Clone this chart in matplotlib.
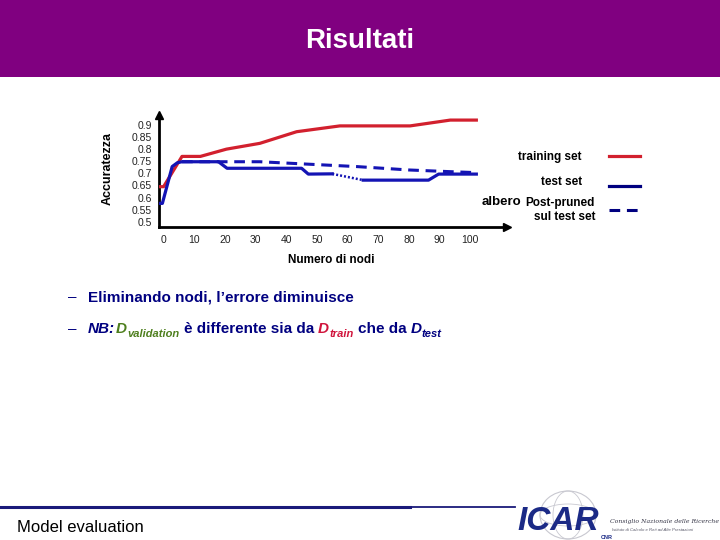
import matplotlib
matplotlib.use("Agg")
import matplotlib.pyplot as plt
from matplotlib.patches import Rectangle, Ellipse
from matplotlib.lines import Line2D

plt.rcParams['font.family'] = ['Liberation Sans', 'DejaVu Sans']

# ---------------- data ----------------
train_x = [-1.5, 0.0, 6.0, 12.0, 20.5, 31.4, 43.4, 57.5, 80.4, 93.5, 102]
train_y = [0.645, 0.645, 0.770, 0.770, 0.800, 0.824, 0.872, 0.896, 0.896, 0.920, 0.920]

test_x_a = [-1.5, -0.4, 2.8, 4.5, 6.0, 17.9, 20.7, 45.0, 47.2, 55.0]
test_y_a = [0.576, 0.576, 0.728, 0.744, 0.748, 0.748, 0.721, 0.721, 0.697, 0.698]
test_x_dot = [55.0, 65.1]
test_y_dot = [0.698, 0.672]
test_x_b = [65.1, 86.4, 89.7, 102]
test_y_b = [0.672, 0.672, 0.697, 0.697]

pruned_x = [6.0, 18.0, 31.4, 45.5, 63.0, 80.0, 93.5, 102]
pruned_y = [0.748, 0.748, 0.748, 0.739, 0.728, 0.714, 0.707, 0.703]

x_ticks = [0, 10, 20, 30, 40, 50, 60, 70, 80, 90, 100]
y_ticks = [0.5, 0.55, 0.6, 0.65, 0.7, 0.75, 0.8, 0.85, 0.9]
y_ticklabels = ["0.5", "0.55", "0.6", "0.65", "0.7", "0.75", "0.8", "0.85", "0.9"]

title = "Risultati"
ylabel = "Accuratezza"
xlabel = "Numero di nodi"
legend_labels = ["training set", "test set", "Post-pruned", "sul test set"]

RED = "#D2202E"
BLUE = "#1414B4"
NAVY = "#000080"
GREEN = "#4E7F1E"
CRIMSON = "#D0143C"

W, H = 720, 540
fig = plt.figure(figsize=(7.2, 5.4), dpi=100)
fig.patch.set_facecolor("white")

def fx(px):
    return px / W

def fy(py):
    return 1 - py / H

# purple header
fig.patches.append(Rectangle((0, fy(77)), 1, 77 / H, transform=fig.transFigure,
                             facecolor="#800080", edgecolor="none", zorder=0))
fig.text(0.5, fy(41), title, color="white", fontsize=20, fontweight="bold",
         ha="center", va="center")

# ---------------- chart ----------------
ax = fig.add_axes([fx(159), fy(227), fx(507) - fx(159), fy(115) - fy(227)])
ax.set_xlim(-1.5, 112)
ax.set_ylim(0.4785, 0.941)
for s in ["top", "right"]:
    ax.spines[s].set_visible(False)
for s in ["left", "bottom"]:
    ax.spines[s].set_linewidth(2.0)
    ax.spines[s].set_color("black")
ax.set_facecolor("none")
ax.plot(1, 0, ">", color="black", markersize=6, transform=ax.transAxes, clip_on=False)
ax.plot(0, 1, "^", color="black", markersize=6, transform=ax.transAxes, clip_on=False)

ax.set_xticks(x_ticks)
ax.set_xticklabels([str(v) for v in x_ticks])
ax.set_yticks(y_ticks)
ax.set_yticklabels(y_ticklabels)
ax.tick_params(axis="both", length=0, labelsize=7.5, colors="#222222")
ax.tick_params(axis="y", pad=5)
ax.tick_params(axis="x", pad=6)

ax.plot(train_x, train_y, color=RED, lw=2.3, solid_joinstyle="round", zorder=3)
ax.plot(pruned_x, pruned_y, color=BLUE, lw=2.2, dashes=(3.5, 2.2), zorder=2)
ax.plot(test_x_a, test_y_a, color=BLUE, lw=2.3, solid_joinstyle="round", zorder=3)
ax.plot(test_x_dot, test_y_dot, color=BLUE, lw=1.8, linestyle=(0, (0.8, 0.8)), zorder=3)
ax.plot(test_x_b, test_y_b, color=BLUE, lw=2.3, solid_joinstyle="round", zorder=3)

fig.text(fx(108), fy(169), ylabel, rotation=90, fontsize=9, fontweight="bold",
         ha="center", va="center")
fig.text(fx(331), fy(260), xlabel, fontsize=8.5, fontweight="bold",
         ha="center", va="center")

# legend (manual)
fig.text(fx(582), fy(157), legend_labels[0], fontsize=8.5, fontweight="bold", ha="right", va="center")
fig.text(fx(582), fy(182), legend_labels[1], fontsize=8.5, fontweight="bold", ha="right", va="center")
t_pp = fig.text(fx(595), fy(203), legend_labels[2], fontsize=8.5, fontweight="bold", ha="right", va="center")
fig.text(fx(595), fy(217), legend_labels[3], fontsize=8.5, fontweight="bold", ha="right", va="center")

fig.lines.append(Line2D([fx(609), fx(640)], [fy(156), fy(156)], transform=fig.transFigure,
                        color=RED, lw=2.3))
fig.lines.append(Line2D([fx(609), fx(640)], [fy(186), fy(186)], transform=fig.transFigure,
                        color=NAVY, lw=2.3))
fig.lines.append(Line2D([fx(609), fx(640)], [fy(210), fy(210)], transform=fig.transFigure,
                        color=NAVY, lw=2.2, dashes=(3.5, 2.2)))

renderer = fig.canvas.get_renderer()
bb = t_pp.get_window_extent(renderer=renderer)
fig.text((bb.x0 - 4) / W, fy(202), "albero", fontsize=9.5, fontweight="bold",
         ha="right", va="center")

# ---------------- bullets ----------------
def seq_text(x_px, y_px, parts):
    x = x_px
    for s, kw, dy, gap in parts:
        t = fig.text(fx(x), fy(y_px + dy), s, ha="left", va="baseline", **kw)
        b = t.get_window_extent(renderer=renderer)
        x += b.width + gap

fig.text(fx(68), fy(301), "–", fontsize=11, color=NAVY, ha="left", va="baseline")
fig.text(fx(68), fy(333), "–", fontsize=11, color=NAVY, ha="left", va="baseline")

main_kw = dict(fontsize=11, fontweight="bold", color=NAVY)
fig.text(fx(88), fy(301), "Eliminando nodi, l’errore diminuisce", ha="left", va="baseline", **main_kw)

sp = 4.3
seq_text(88, 333, [
    ("NB:", dict(fontsize=11, fontweight="bold", style="italic", color=NAVY), 0, 1),
    ("D", dict(fontsize=11, fontweight="bold", style="italic", color=GREEN), 0, 0),
    ("validation", dict(fontsize=8, fontweight="bold", style="italic", color=GREEN), 4, sp),
    ("è differente sia da", dict(fontsize=11, fontweight="bold", color=NAVY), 0, sp),
    ("D", dict(fontsize=11, fontweight="bold", style="italic", color=CRIMSON), 0, 0),
    ("train", dict(fontsize=8, fontweight="bold", style="italic", color=CRIMSON), 4, sp),
    ("che da", dict(fontsize=11, fontweight="bold", color=NAVY), 0, sp),
    ("D", dict(fontsize=11, fontweight="bold", style="italic", color=NAVY), 0, 0),
    ("test", dict(fontsize=8, fontweight="bold", style="italic", color=NAVY), 4, 0),
])

# ---------------- footer ----------------
fig.lines.append(Line2D([0, fx(410)], [fy(507), fy(507)], transform=fig.transFigure,
                        color="#1A1A7A", lw=2.2))
fig.lines.append(Line2D([fx(410), fx(515)], [fy(506.5), fy(506.5)], transform=fig.transFigure,
                        color="#1A1A7A", lw=1.3))
fig.text(fx(17), fy(527), "Model evaluation", fontsize=12, color="black", ha="left", va="center")

# logo approximation
fig.patches.append(Ellipse((fx(568), fy(515)), 56 / W, 48 / H, transform=fig.transFigure,
                           facecolor="none", edgecolor="#C8C8D0", lw=0.8))
fig.patches.append(Ellipse((fx(568), fy(515)), 30 / W, 48 / H, transform=fig.transFigure,
                           facecolor="none", edgecolor="#C8C8D0", lw=0.6))
fig.patches.append(Ellipse((fx(568), fy(515)), 56 / W, 22 / H, transform=fig.transFigure,
                           facecolor="none", edgecolor="#C8C8D0", lw=0.6))
fig.text(fx(517), fy(530), "ICAR", fontsize=24, fontweight="heavy", style="italic",
         color="#1B2A86", ha="left", va="baseline")
fig.text(fx(601), fy(539), "CNR", fontsize=4, fontweight="bold", color="#1B2A86",
         ha="left", va="baseline")
fig.text(fx(610), fy(521), "Consiglio Nazionale delle Ricerche", fontsize=4.4,
         style="italic", family=["DejaVu Serif"], color="#333344", ha="left", va="center")
fig.text(fx(612), fy(530), "Istituto di Calcolo e Reti ad Alte Prestazioni", fontsize=3.1,
         style="italic", color="#555566", ha="left", va="center")

fig.savefig("out.png", dpi=100)
